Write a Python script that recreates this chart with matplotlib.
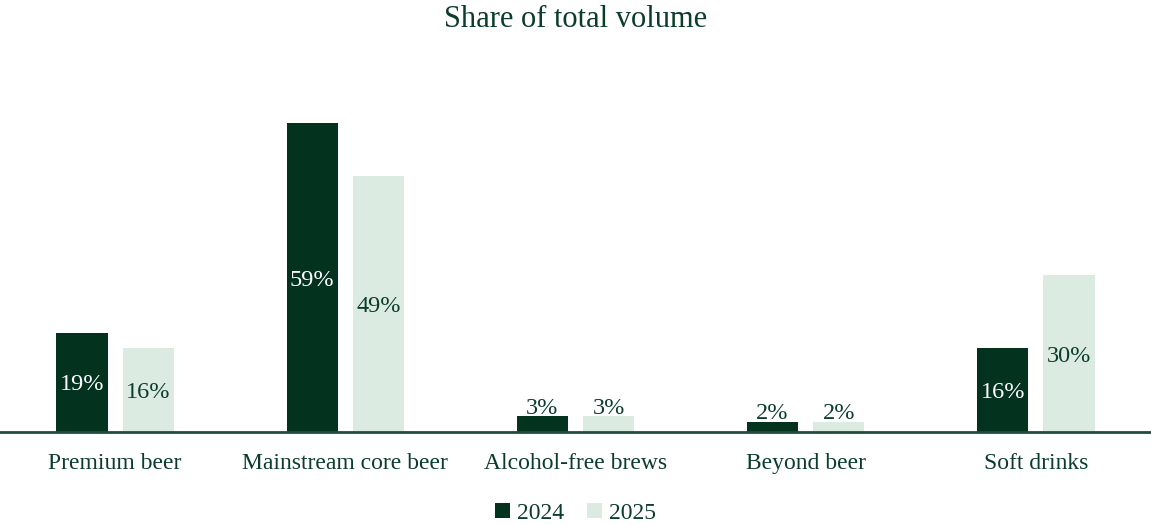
import matplotlib.pyplot as plt
import numpy as np

categories = ["Premium beer", "Mainstream core beer", "Alcohol-free brews", "Beyond beer", "Soft drinks"]
share_2024 = [19, 59, 3, 2, 16]
share_2025 = [16, 49, 3, 2, 30]
series_names = ["2024", "2025"]

dark = "#03321f"
light = "#dcebe1"
text_col = "#0b3d2a"

plt.rcParams['font.family'] = ['Liberation Serif', 'DejaVu Serif']

fig = plt.figure(figsize=(11.51, 5.24), dpi=100)
ax = fig.add_axes([0, 0.1756, 1, 0.6488])

x = np.arange(len(categories))
w = 0.222
off = 0.144
bars1 = ax.bar(x - off, share_2024, w, color=dark, label=series_names[0])
bars2 = ax.bar(x + off, share_2025, w, color=light, label=series_names[1])

# labels inside the bars, small ones sit on top
for bars, vals, col in [(bars1, share_2024, "white"), (bars2, share_2025, text_col)]:
    for b, v in zip(bars, vals):
        cx = b.get_x() + b.get_width() / 2
        if v < 5:
            ax.text(cx, v - 0.5, f"{v}%", ha="center", va="bottom", fontsize=17.5, color=text_col)
        else:
            ax.text(cx, v / 2 - 0.5, f"{v}%", ha="center", va="center", fontsize=17.5, color=col)

ax.set_xlim(-0.5, len(categories) - 0.5)
ax.set_ylim(0, 65)
ax.set_xticks(x)
ax.set_xticklabels(categories, fontsize=17, color=text_col)
ax.tick_params(axis="x", length=0, pad=15)
ax.set_yticks([])
for s in ["top", "right", "left"]:
    ax.spines[s].set_visible(False)
ax.spines["bottom"].set_color("#1f4d3a")
ax.spines["bottom"].set_linewidth(2)

fig.suptitle("Share of total volume", fontsize=22, color=text_col, y=0.99)
fig.legend(loc="lower center", bbox_to_anchor=(0.5, -0.04), ncol=2, frameon=False,
           fontsize=17, labelcolor=text_col, handlelength=0.6, handleheight=0.6,
           handletextpad=0.3, columnspacing=1.0)

fig.savefig("out.png", dpi=100)
